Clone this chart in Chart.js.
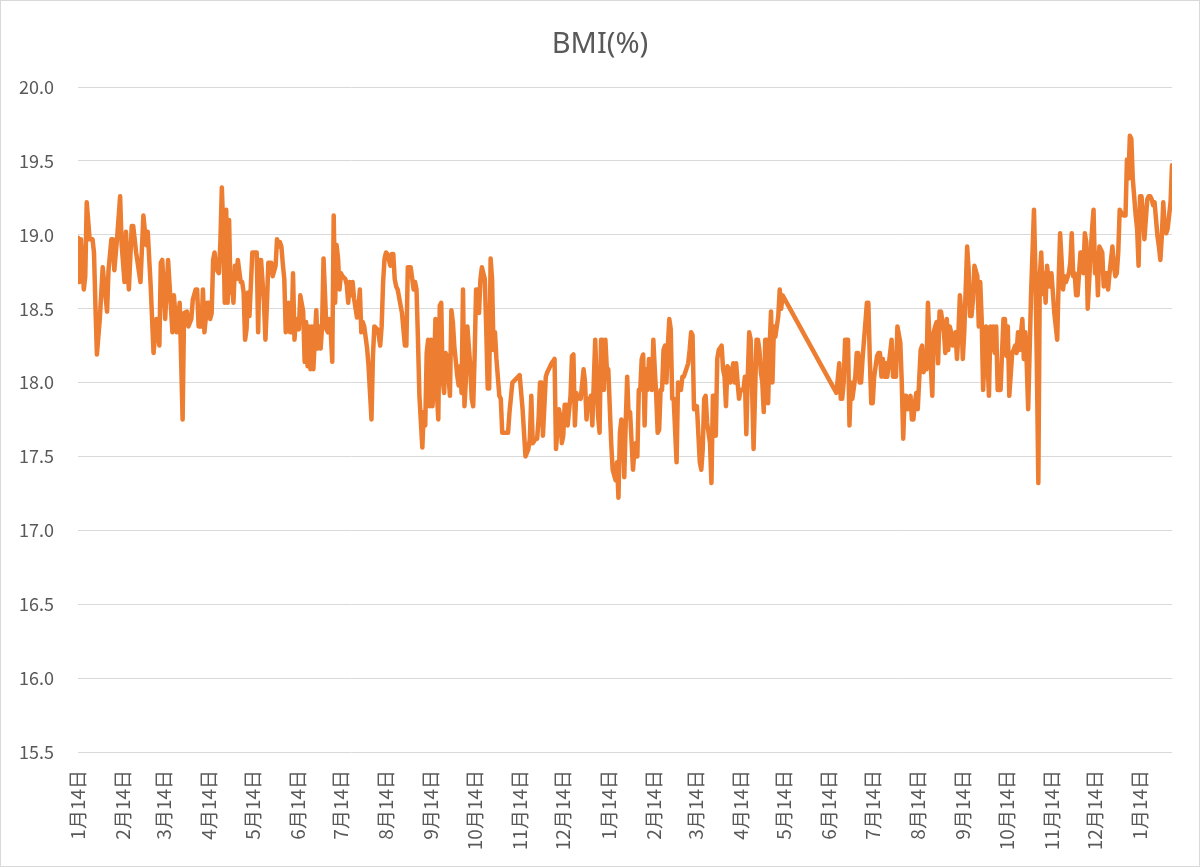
<!DOCTYPE html>
<html><head><meta charset="utf-8">
<script src="https://cdn.jsdelivr.net/npm/chart.js@4.4.1/dist/chart.umd.min.js"></script>
<style>html,body{margin:0;padding:0;background:#fff;}canvas{display:block;}</style>
</head><body>
<canvas id="c" width="1200" height="867"></canvas>
<script>
const chartTitle = "BMI(%)";
const seriesName = "BMI(%)";

const dates = [
"2019-01-14","2019-01-15","2019-01-16","2019-01-18","2019-01-19","2019-01-20","2019-01-22","2019-01-24","2019-01-25","2019-01-26","2019-01-27","2019-01-29","2019-01-31",
"2019-02-03","2019-02-04","2019-02-06","2019-02-07","2019-02-08","2019-02-10","2019-02-12","2019-02-13","2019-02-15","2019-02-16","2019-02-18","2019-02-20","2019-02-21","2019-02-23","2019-02-26","2019-02-28",
"2019-03-02","2019-03-03","2019-03-05","2019-03-07","2019-03-09","2019-03-11","2019-03-12","2019-03-13","2019-03-15","2019-03-17","2019-03-20","2019-03-21","2019-03-23","2019-03-25","2019-03-27","2019-03-28","2019-03-30","2019-03-31",
"2019-04-02","2019-04-03","2019-04-05","2019-04-06","2019-04-07","2019-04-09","2019-04-10","2019-04-11","2019-04-13","2019-04-14","2019-04-15","2019-04-16","2019-04-17","2019-04-18","2019-04-19","2019-04-21","2019-04-22","2019-04-23","2019-04-24","2019-04-25","2019-04-26","2019-04-27","2019-04-28","2019-04-29","2019-04-30",
"2019-05-01","2019-05-02","2019-05-03","2019-05-04","2019-05-06","2019-05-07","2019-05-08","2019-05-09","2019-05-10","2019-05-11","2019-05-12","2019-05-14","2019-05-15","2019-05-16","2019-05-17","2019-05-18","2019-05-19","2019-05-20","2019-05-22","2019-05-23","2019-05-24","2019-05-25","2019-05-27","2019-05-28","2019-05-30","2019-05-31",
"2019-06-01","2019-06-02","2019-06-03","2019-06-04","2019-06-05","2019-06-06","2019-06-08","2019-06-09","2019-06-10","2019-06-11","2019-06-12","2019-06-13","2019-06-15","2019-06-16","2019-06-18","2019-06-19","2019-06-20","2019-06-21","2019-06-22","2019-06-23","2019-06-24","2019-06-25","2019-06-27","2019-06-28","2019-06-29","2019-06-30",
"2019-07-01","2019-07-02","2019-07-04","2019-07-05","2019-07-06","2019-07-07","2019-07-08","2019-07-09","2019-07-10","2019-07-11","2019-07-12","2019-07-13","2019-07-14","2019-07-15","2019-07-17","2019-07-18","2019-07-19","2019-07-20","2019-07-21","2019-07-22","2019-07-23","2019-07-25","2019-07-26","2019-07-27","2019-07-28","2019-07-29","2019-07-30",
"2019-08-01","2019-08-02","2019-08-03","2019-08-04","2019-08-05","2019-08-06","2019-08-08","2019-08-09","2019-08-10","2019-08-11","2019-08-12","2019-08-13","2019-08-14","2019-08-15","2019-08-17","2019-08-18","2019-08-19","2019-08-20","2019-08-21","2019-08-22","2019-08-25","2019-08-27","2019-08-28","2019-08-29","2019-08-31",
"2019-09-02","2019-09-03","2019-09-04","2019-09-05","2019-09-06","2019-09-08","2019-09-09","2019-09-10","2019-09-11","2019-09-12","2019-09-13","2019-09-14","2019-09-15","2019-09-16","2019-09-17","2019-09-18","2019-09-19","2019-09-20","2019-09-21","2019-09-22","2019-09-23","2019-09-24","2019-09-25","2019-09-26","2019-09-27","2019-09-28","2019-09-29","2019-09-30",
"2019-10-02","2019-10-03","2019-10-04","2019-10-05","2019-10-06","2019-10-07","2019-10-08","2019-10-09","2019-10-11","2019-10-12","2019-10-13","2019-10-14","2019-10-15","2019-10-16","2019-10-17","2019-10-18","2019-10-19","2019-10-21","2019-10-22","2019-10-23","2019-10-24","2019-10-25","2019-10-26","2019-10-27","2019-10-28","2019-10-29","2019-10-31",
"2019-11-01","2019-11-02","2019-11-04","2019-11-06","2019-11-07","2019-11-09","2019-11-11","2019-11-14","2019-11-16","2019-11-18","2019-11-20","2019-11-21","2019-11-22","2019-11-23","2019-11-25","2019-11-26","2019-11-27","2019-11-28","2019-11-29","2019-11-30",
"2019-12-02","2019-12-03","2019-12-05","2019-12-06","2019-12-08","2019-12-09","2019-12-11","2019-12-12","2019-12-13","2019-12-14","2019-12-15","2019-12-16","2019-12-17","2019-12-19","2019-12-20","2019-12-21","2019-12-22","2019-12-23","2019-12-24","2019-12-25","2019-12-26","2019-12-28","2019-12-29","2019-12-30","2019-12-31",
"2020-01-01","2020-01-02","2020-01-03","2020-01-05","2020-01-06","2020-01-07","2020-01-08","2020-01-09","2020-01-10","2020-01-11","2020-01-12","2020-01-13","2020-01-14","2020-01-15","2020-01-16","2020-01-17","2020-01-19","2020-01-20","2020-01-21","2020-01-22","2020-01-23","2020-01-24","2020-01-25","2020-01-26","2020-01-27","2020-01-28","2020-01-29","2020-01-31",
"2020-02-01","2020-02-02","2020-02-03","2020-02-04","2020-02-05","2020-02-06","2020-02-07","2020-02-08","2020-02-09","2020-02-10","2020-02-11","2020-02-13","2020-02-14","2020-02-15","2020-02-16","2020-02-17","2020-02-18","2020-02-19","2020-02-20","2020-02-21","2020-02-22","2020-02-23","2020-02-24","2020-02-25","2020-02-26","2020-02-27","2020-02-28",
"2020-03-01","2020-03-02","2020-03-03","2020-03-04","2020-03-05","2020-03-06","2020-03-07","2020-03-09","2020-03-10","2020-03-11","2020-03-12","2020-03-13","2020-03-14","2020-03-15","2020-03-17","2020-03-18","2020-03-19","2020-03-20","2020-03-21","2020-03-22","2020-03-24","2020-03-25","2020-03-26","2020-03-27","2020-03-28","2020-03-29","2020-03-30",
"2020-04-01","2020-04-02","2020-04-03","2020-04-04","2020-04-05","2020-04-06","2020-04-07","2020-04-09","2020-04-10","2020-04-11","2020-04-12","2020-04-13","2020-04-14","2020-04-16","2020-04-17","2020-04-18","2020-04-19","2020-04-20","2020-04-21","2020-04-22","2020-04-23","2020-04-25","2020-04-26","2020-04-27","2020-04-28","2020-04-29","2020-04-30",
"2020-05-01","2020-05-02","2020-05-03","2020-05-04","2020-05-05","2020-05-06","2020-05-07","2020-05-08","2020-05-10","2020-05-11","2020-05-12","2020-05-13",
"2020-06-19","2020-06-21","2020-06-22","2020-06-23","2020-06-24","2020-06-25","2020-06-26","2020-06-27","2020-06-28","2020-06-29","2020-06-30",
"2020-07-02","2020-07-03","2020-07-04","2020-07-05","2020-07-06","2020-07-07","2020-07-09","2020-07-10","2020-07-11","2020-07-12","2020-07-13","2020-07-14","2020-07-15","2020-07-17","2020-07-18","2020-07-19","2020-07-20","2020-07-21","2020-07-22","2020-07-23","2020-07-24","2020-07-26","2020-07-27","2020-07-28","2020-07-29","2020-07-30","2020-07-31",
"2020-08-02","2020-08-03","2020-08-04","2020-08-05","2020-08-06","2020-08-07","2020-08-09","2020-08-10","2020-08-11","2020-08-12","2020-08-13","2020-08-14","2020-08-16","2020-08-17","2020-08-18","2020-08-19","2020-08-20","2020-08-21","2020-08-22","2020-08-24","2020-08-25","2020-08-26","2020-08-27","2020-08-28","2020-08-29","2020-08-30",
"2020-09-01","2020-09-02","2020-09-03","2020-09-04","2020-09-05","2020-09-06","2020-09-07","2020-09-09","2020-09-10","2020-09-11","2020-09-12","2020-09-13","2020-09-14","2020-09-15","2020-09-17","2020-09-18","2020-09-19","2020-09-20","2020-09-21","2020-09-22","2020-09-24","2020-09-25","2020-09-26","2020-09-27","2020-09-28","2020-09-29","2020-09-30",
"2020-10-02","2020-10-03","2020-10-04","2020-10-05","2020-10-06","2020-10-07","2020-10-08","2020-10-10","2020-10-11","2020-10-12","2020-10-13","2020-10-14","2020-10-15","2020-10-16","2020-10-18","2020-10-19","2020-10-20","2020-10-21","2020-10-22","2020-10-23","2020-10-25","2020-10-26","2020-10-27","2020-10-28","2020-10-29","2020-10-31",
"2020-11-02","2020-11-03","2020-11-04","2020-11-05","2020-11-06","2020-11-07","2020-11-08","2020-11-09","2020-11-10","2020-11-11","2020-11-12","2020-11-13","2020-11-14","2020-11-15","2020-11-16","2020-11-18","2020-11-19","2020-11-20","2020-11-21","2020-11-22","2020-11-23","2020-11-24","2020-11-26","2020-11-27","2020-11-28","2020-11-29","2020-11-30",
"2020-12-01","2020-12-02","2020-12-04","2020-12-05","2020-12-06","2020-12-07","2020-12-08","2020-12-09","2020-12-11","2020-12-12","2020-12-13","2020-12-14","2020-12-15","2020-12-16","2020-12-17","2020-12-19","2020-12-20","2020-12-21","2020-12-22","2020-12-23","2020-12-24","2020-12-26","2020-12-27","2020-12-28","2020-12-29","2020-12-30","2020-12-31",
"2021-01-01","2021-01-03","2021-01-04","2021-01-05","2021-01-06","2021-01-07","2021-01-08","2021-01-09","2021-01-11","2021-01-12","2021-01-13","2021-01-14","2021-01-15","2021-01-16","2021-01-17","2021-01-19","2021-01-20","2021-01-21","2021-01-22","2021-01-23","2021-01-24","2021-01-26","2021-01-27","2021-01-28","2021-01-29","2021-01-30","2021-01-31",
"2021-02-01","2021-02-02","2021-02-04","2021-02-05"
];

const values = [
18.98,18.68,18.97,18.63,18.72,19.22,18.97,18.97,18.88,18.52,18.19,18.43,18.78,
18.48,18.76,18.97,18.97,18.76,18.99,19.26,18.94,18.68,19.02,18.63,19.06,19.06,18.88,18.68,19.13,
18.93,19.02,18.66,18.20,18.43,18.25,18.81,18.83,18.43,18.83,18.34,18.59,18.34,18.54,17.75,18.47,18.48,18.38,
18.43,18.56,18.63,18.63,18.38,18.38,18.63,18.34,18.54,18.54,18.43,18.47,18.83,18.88,18.77,18.74,18.95,19.32,19.04,18.54,19.17,18.54,19.10,18.61,18.65,
18.54,18.79,18.70,18.83,18.68,18.68,18.61,18.29,18.36,18.61,18.45,18.88,18.88,18.88,18.88,18.34,18.83,18.83,18.54,18.29,18.52,18.81,18.81,18.72,18.79,18.97,
18.92,18.95,18.92,18.80,18.70,18.34,18.54,18.34,18.34,18.74,18.29,18.43,18.36,18.59,18.48,18.14,18.41,18.11,18.38,18.09,18.38,18.09,18.49,18.23,18.38,18.23,
18.38,18.84,18.36,18.34,18.43,18.34,18.14,19.13,18.54,18.93,18.84,18.63,18.74,18.72,18.70,18.66,18.54,18.68,18.59,18.68,18.57,18.44,18.50,18.63,18.34,18.41,18.38,
18.23,18.11,17.93,17.75,18.18,18.38,18.36,18.32,18.25,18.38,18.68,18.84,18.88,18.87,18.79,18.87,18.87,18.70,18.65,18.63,18.47,18.25,18.25,18.78,18.78,
18.63,18.68,18.63,18.29,17.91,17.56,17.80,17.71,18.20,18.29,17.84,18.29,17.84,18.02,18.43,17.93,17.75,18.52,18.54,18.02,17.93,18.20,18.18,18.05,17.91,18.49,18.41,18.25,
18.05,17.98,18.11,17.93,18.63,17.84,18.02,18.38,18.11,17.89,17.84,18.18,18.63,18.63,18.47,18.70,18.78,18.70,18.36,17.96,17.96,18.84,18.70,18.22,18.34,18.16,17.91,
17.89,17.66,17.66,17.66,17.80,18.00,18.02,18.05,17.82,17.50,17.55,17.62,17.91,17.59,17.62,17.62,17.75,18.00,18.00,17.64,
18.04,18.07,18.11,18.13,18.16,17.55,17.82,17.77,17.59,17.64,17.85,17.85,17.71,17.91,18.18,18.19,17.71,17.93,17.89,17.91,17.89,18.09,18.00,17.75,17.89,
17.82,17.91,17.71,18.29,18.00,17.77,17.66,18.29,18.29,17.95,18.29,18.09,18.09,17.84,17.59,17.41,17.34,17.46,17.22,17.66,17.75,17.73,17.36,17.73,18.04,17.77,17.80,17.41,
17.55,17.59,17.50,17.95,17.95,18.16,18.19,17.71,18.09,17.95,18.16,17.95,18.29,18.09,17.91,17.66,17.68,17.95,17.95,18.22,18.25,18.00,18.25,18.43,18.36,17.89,17.89,
17.46,18.00,17.98,17.95,18.04,18.04,18.07,18.13,18.22,18.34,18.32,17.82,17.82,17.84,17.46,17.41,17.55,17.89,17.91,17.73,17.59,17.32,17.91,17.91,17.64,18.16,18.22,
18.25,18.09,18.04,17.84,18.11,18.09,18.00,18.13,18.00,18.13,18.00,17.89,17.95,17.95,18.04,17.65,18.04,18.34,18.29,17.95,17.55,18.29,18.29,18.22,18.07,18.00,17.80,
18.29,18.29,17.86,18.22,18.48,18.00,18.38,18.31,18.45,18.63,18.50,18.59,
17.93,18.13,17.89,17.89,18.00,18.29,18.29,18.29,17.71,18.00,17.89,
18.04,18.20,18.20,18.00,18.00,18.16,18.41,18.54,18.54,18.16,17.86,17.86,18.04,18.18,18.20,18.20,18.04,18.16,18.04,18.13,18.04,18.20,18.29,18.04,18.13,18.04,18.38,
18.27,18.00,17.62,17.91,17.91,17.82,17.91,17.75,17.75,17.86,17.93,17.82,18.22,18.25,18.07,18.13,18.09,18.54,18.31,17.91,18.34,18.38,18.41,18.13,18.48,18.48,
18.34,18.20,18.43,18.22,18.38,18.34,18.25,18.34,18.16,18.34,18.59,18.47,18.16,18.34,18.92,18.77,18.45,18.45,18.56,18.79,18.72,18.38,18.68,18.43,17.95,18.20,18.38,
17.91,18.38,18.22,18.38,18.20,18.38,17.95,17.95,18.20,18.43,18.43,18.18,18.38,17.91,18.20,18.22,18.25,18.20,18.34,18.22,18.43,18.16,18.34,18.13,17.82,18.60,
19.17,18.74,18.10,17.32,18.72,18.88,18.60,18.74,18.54,18.79,18.70,18.65,18.74,18.61,18.47,18.29,18.70,19.01,18.83,18.63,18.72,18.68,18.74,18.81,19.01,18.72,18.74,
18.59,18.59,18.88,18.88,18.74,19.01,18.95,18.50,18.88,19.04,19.17,18.74,18.88,18.59,18.92,18.88,18.65,18.74,18.74,18.63,18.74,18.92,18.79,18.72,18.74,18.88,19.17,
19.15,19.13,19.13,19.51,19.38,19.67,19.65,19.38,19.13,19.04,18.79,19.26,19.26,19.13,18.97,19.24,19.26,19.26,19.24,19.20,19.22,18.99,18.92,18.83,18.99,19.22,19.04,
19.01,19.04,19.22,19.47
];

const tickDates = [
"2019-01-14","2019-02-14","2019-03-14","2019-04-14","2019-05-14","2019-06-14","2019-07-14","2019-08-14","2019-09-14","2019-10-14","2019-11-14","2019-12-14",
"2020-01-14","2020-02-14","2020-03-14","2020-04-14","2020-05-14","2020-06-14","2020-07-14","2020-08-14","2020-09-14","2020-10-14","2020-11-14","2020-12-14",
"2021-01-14"
];
const tickLabels = [
"1月14日","2月14日","3月14日","4月14日","5月14日","6月14日","7月14日","8月14日","9月14日","10月14日","11月14日","12月14日",
"1月14日","2月14日","3月14日","4月14日","5月14日","6月14日","7月14日","8月14日","9月14日","10月14日","11月14日","12月14日",
"1月14日"
];
const yMin = 15.5, yMax = 20.0, yStep = 0.5;

function toDay(s){ const p = s.split('-').map(Number); return Date.UTC(p[0], p[1]-1, p[2]) / 864e5; }

const points = dates.map((s, i) => ({ x: toDay(s), y: values[i] }));
const FONT = "'Noto Sans CJK JP', 'Noto Sans', sans-serif";
const TXT = '#595959';
const GRID = '#d9d9d9';

const frame = {
  id: 'frame',
  beforeDraw(chart){ const c = chart.ctx; c.save(); c.fillStyle = '#fff'; c.fillRect(0,0,chart.width,chart.height); c.restore(); },
  afterDraw(chart){
    const c = chart.ctx; c.save();
    c.fillStyle = TXT; c.font = "29px 'Noto Sans', sans-serif"; c.textAlign = 'center'; c.textBaseline = 'alphabetic';
    c.fillText(chartTitle, chart.width / 2, 53);
    c.strokeStyle = GRID; c.lineWidth = 1; c.strokeRect(0.5,0.5,chart.width-1,chart.height-1);
    c.restore();
  }
};

new Chart(document.getElementById('c'), {
  type: 'line',
  data: { datasets: [{
    label: seriesName, data: points,
    borderColor: '#ED7D31', borderWidth: 4.5, pointRadius: 0, tension: 0,
    borderJoinStyle: 'round', borderCapStyle: 'round', fill: false
  }]},
  options: {
    responsive: false, animation: false, devicePixelRatio: 1,
    layout: { padding: { left: 0, right: 28, top: 87, bottom: 0 } },
    plugins: {
      legend: { display: false },
      tooltip: { enabled: false },
      title: { display: false }
    },
    scales: {
      x: {
        type: 'linear',
        min: toDay(dates[0]), max: toDay(dates[dates.length-1]),
        afterBuildTicks(scale){ scale.ticks = tickDates.map(s => ({ value: toDay(s) })); },
        afterFit(scale){ scale.height = 115; },
        grid: { display: false, drawTicks: false },
        border: { display: false },
        ticks: { autoSkip: false, minRotation: 90, maxRotation: 90, padding: 18, color: TXT,
          font: { family: FONT, size: 19 },
          callback(v, i){ return tickLabels[i]; } }
      },
      y: {
        min: yMin, max: yMax,
        afterFit(scale){ scale.width = 78; },
        grid: { color: GRID, lineWidth: 1, drawTicks: false },
        border: { display: false },
        ticks: { stepSize: yStep, padding: 24, color: TXT, font: { family: FONT, size: 18 },
          callback(v){ return Number(v).toFixed(1); } }
      }
    }
  },
  plugins: [frame]
});
</script>
</body></html>
